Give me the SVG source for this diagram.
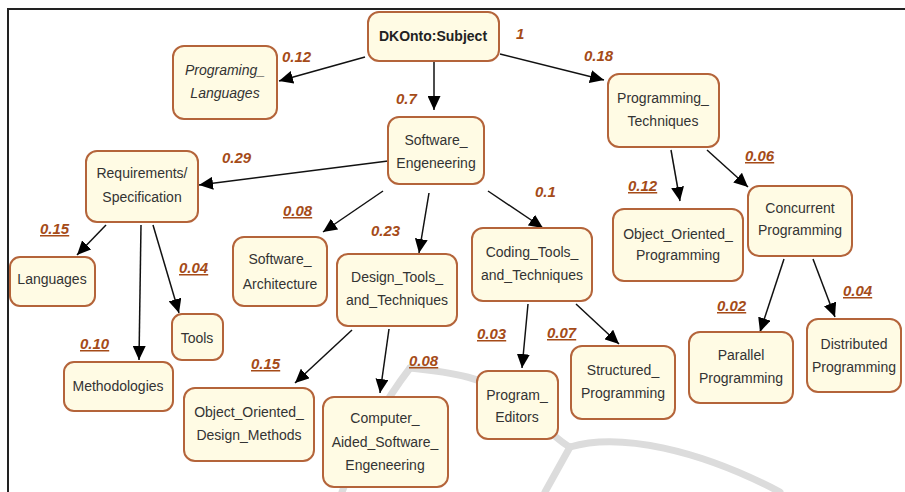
<svg xmlns="http://www.w3.org/2000/svg" width="905" height="492" viewBox="0 0 905 492">
<defs>
<style>
.box{fill:#fffbe4;stroke:#b4643a;stroke-width:2}
.t{font-family:"Liberation Sans",Arial,sans-serif;font-size:14px;fill:#333;text-anchor:middle}
.b{font-weight:bold;fill:#222}
.i{font-style:italic}
.lbl{font-family:"Liberation Sans",Arial,sans-serif;font-size:15px;font-weight:bold;font-style:italic;fill:#a54b18}
.u{text-decoration:underline}
.e{stroke:#111;stroke-width:1.5;fill:none;marker-end:url(#ah)}
.wm{stroke:#dcdcdc;stroke-width:7;fill:none;stroke-linecap:round}
</style>
<marker id="ah" markerUnits="userSpaceOnUse" markerWidth="15" markerHeight="13" refX="14" refY="6.5" orient="auto">
<path d="M0,0 L14,6.5 L0,13 z" fill="#000"/>
</marker>
</defs>
<rect width="905" height="492" fill="#fff"/>
<g id="watermark">
<path class="wm" d="M410 368 C450 372 490 378 515 400 C540 420 555 440 570 447"/>
<path class="wm" d="M570 447 C620 432 700 450 780 492"/>
<path class="wm" d="M570 447 L545 492"/>
<path class="wm" d="M410 368 Q370 420 342 492"/>
</g>
<g id="frame">
<line x1="8" y1="9" x2="905" y2="9" stroke="#222" stroke-width="2"/>
<line x1="8" y1="8" x2="8" y2="492" stroke="#222" stroke-width="2"/>
</g>
<g id="connectors">
<line class="e" x1="365" y1="57" x2="279" y2="81"/>
<line class="e" x1="434" y1="62" x2="434" y2="110"/>
<line class="e" x1="500" y1="54" x2="604" y2="80"/>
<line class="e" x1="388" y1="161" x2="199" y2="185"/>
<line class="e" x1="106" y1="225" x2="77" y2="255"/>
<line class="e" x1="141" y1="225" x2="139" y2="360"/>
<line class="e" x1="153" y1="225" x2="179" y2="313"/>
<line class="e" x1="383" y1="191" x2="323" y2="232"/>
<line class="e" x1="429" y1="193" x2="419" y2="253"/>
<line class="e" x1="488" y1="191" x2="543" y2="228"/>
<line class="e" x1="671" y1="150" x2="680" y2="201"/>
<line class="e" x1="707" y1="150" x2="748" y2="187"/>
<line class="e" x1="784" y1="259" x2="760" y2="332"/>
<line class="e" x1="813" y1="259" x2="835" y2="317"/>
<line class="e" x1="528" y1="304" x2="522" y2="368"/>
<line class="e" x1="576" y1="304" x2="619" y2="344"/>
<line class="e" x1="352" y1="330" x2="295" y2="383"/>
<line class="e" x1="389" y1="329" x2="380" y2="393"/>
</g>
<g id="n-subject"><rect class="box" x="368" y="12" width="131" height="49" rx="11"/><text class="t b" x="433" y="41">DKOnto:Subject</text></g>
<g id="n-proglang"><rect class="box" x="173" y="46" width="104" height="73" rx="11"/><text class="t i" x="225" y="75">Programing_</text><text class="t i" x="225" y="98">Languages</text></g>
<g id="n-softeng"><rect class="box" x="388" y="117" width="96" height="67" rx="11"/><text class="t" x="436" y="145">Software_</text><text class="t" x="436" y="168">Engeneering</text></g>
<g id="n-progtech"><rect class="box" x="608" y="74" width="111" height="73" rx="11"/><text class="t" x="663" y="103">Programming_</text><text class="t" x="663" y="126">Techniques</text></g>
<g id="n-req"><rect class="box" x="86" y="151" width="112" height="71" rx="11"/><text class="t" x="142" y="178">Requirements/</text><text class="t" x="142" y="202">Specification</text></g>
<g id="n-lang"><rect class="box" x="10" y="257" width="85" height="49" rx="10"/><text class="t" x="52" y="284">Languages</text></g>
<g id="n-tools"><rect class="box" x="172" y="314" width="51" height="46" rx="10"/><text class="t" x="197" y="343">Tools</text></g>
<g id="n-meth"><rect class="box" x="64" y="362" width="109" height="49" rx="10"/><text class="t" x="118" y="391">Methodologies</text></g>
<g id="n-softarch"><rect class="box" x="233" y="237" width="94" height="69" rx="11"/><text class="t" x="280" y="264">Software_</text><text class="t" x="280" y="289">Architecture</text></g>
<g id="n-design"><rect class="box" x="337" y="254" width="120" height="72" rx="11"/><text class="t" x="397" y="282">Design_Tools_</text><text class="t" x="397" y="305">and_Techniques</text></g>
<g id="n-coding"><rect class="box" x="472" y="228" width="120" height="73" rx="11"/><text class="t" x="532" y="257">Coding_Tools_</text><text class="t" x="532" y="280">and_Techniques</text></g>
<g id="n-oop"><rect class="box" x="613" y="209" width="130" height="72" rx="11"/><text class="t" x="678" y="239">Object_Oriented_</text><text class="t" x="678" y="260">Programming</text></g>
<g id="n-conc"><rect class="box" x="748" y="186" width="104" height="70" rx="11"/><text class="t" x="800" y="213">Concurrent</text><text class="t" x="800" y="235">Programming</text></g>
<g id="n-par"><rect class="box" x="689" y="332" width="104" height="71" rx="11"/><text class="t" x="741" y="360">Parallel</text><text class="t" x="741" y="383">Programming</text></g>
<g id="n-dist"><rect class="box" x="807" y="319" width="94" height="73" rx="11"/><text class="t" x="854" y="349">Distributed</text><text class="t" x="854" y="372">Programming</text></g>
<g id="n-editors"><rect class="box" x="477" y="371" width="81" height="68" rx="11"/><text class="t" x="517" y="400">Program_</text><text class="t" x="517" y="422">Editors</text></g>
<g id="n-struct"><rect class="box" x="571" y="346" width="104" height="73" rx="11"/><text class="t" x="623" y="375">Structured_</text><text class="t" x="623" y="398">Programming</text></g>
<g id="n-ood"><rect class="box" x="184" y="388" width="130" height="73" rx="11"/><text class="t" x="249" y="417">Object_Oriented_</text><text class="t" x="249" y="440">Design_Methods</text></g>
<g id="n-case"><rect class="box" x="323" y="397" width="125" height="90" rx="11"/><text class="t" x="385" y="423">Computer_</text><text class="t" x="385" y="447">Aided_Software_</text><text class="t" x="385" y="470">Engeneering</text></g>
<g id="labels">
<text class="lbl" x="282" y="62">0.12</text>
<text class="lbl" x="516" y="39">1</text>
<text class="lbl" x="396" y="104">0.7</text>
<text class="lbl" x="584" y="61">0.18</text>
<text class="lbl" x="222" y="163">0.29</text>
<text class="lbl u" x="40" y="234">0.15</text>
<text class="lbl u" x="179" y="273">0.04</text>
<text class="lbl u" x="80" y="349">0.10</text>
<text class="lbl u" x="283" y="216">0.08</text>
<text class="lbl" x="371" y="236">0.23</text>
<text class="lbl" x="535" y="197">0.1</text>
<text class="lbl u" x="628" y="191">0.12</text>
<text class="lbl u" x="745" y="161">0.06</text>
<text class="lbl u" x="717" y="311">0.02</text>
<text class="lbl u" x="843" y="296">0.04</text>
<text class="lbl u" x="477" y="339">0.03</text>
<text class="lbl u" x="547" y="338">0.07</text>
<text class="lbl u" x="251" y="369">0.15</text>
<text class="lbl u" x="409" y="366">0.08</text>
</g>
</svg>
